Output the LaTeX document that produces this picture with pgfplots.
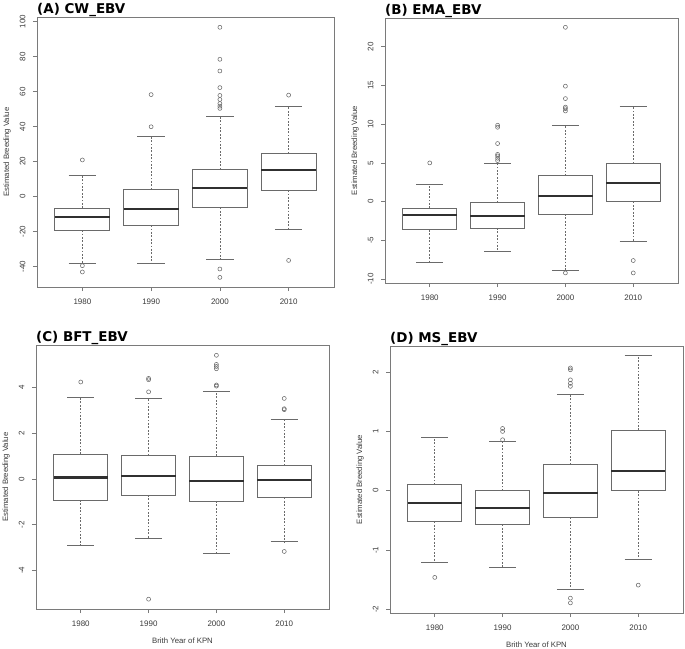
\documentclass[border=0pt]{standalone}
\usepackage{fontspec}
\setmainfont{Liberation Sans}
\newfontfamily\titlefont{DejaVu Sans}
\usepackage{pgfplots}
\pgfplotsset{compat=1.18}
\usepgfplotslibrary{statistics}
\definecolor{framec}{HTML}{7A7A7A}
\definecolor{boxc}{HTML}{6A6A6A}
\definecolor{medc}{HTML}{303030}
\definecolor{txtc}{HTML}{3A3A3A}

\pgfplotsset{
  rbox/.style={
    scale only axis,
    xmin=0.34, xmax=4.66,
    xtick={1,2,3,4}, xticklabels={1980,1990,2000,2010},
    tick align=outside, xtick pos=left, ytick pos=left,
    major tick length=4bp,
    /pgf/number format/assume math mode=true,
    axis line style={framec, line width=0.8bp},
    tick style={framec, line width=0.7bp},
    ticklabel style={font=\fontsize{8}{9}\selectfont, text=txtc},
    yticklabel style={rotate=90, anchor=south, yshift=4bp},
    xticklabel style={anchor=north, yshift=-4bp},
    ylabel={Estimated Breeding Value},
    every axis y label/.style={at={(axis description cs:0,0.5)}, xshift=-30bp, rotate=90, anchor=center, font=\fontsize{7.8}{9}\selectfont, text=txtc},
    every axis x label/.style={at={(axis description cs:0.5,0)}, anchor=center, yshift=-32bp, font=\fontsize{7.8}{9}\selectfont, text=txtc},
    every axis title/.style={at={(axis description cs:0,1)}, anchor=base west, inner sep=0pt, yshift=3.5bp, font=\titlefont\bfseries\fontsize{13.5}{16}\selectfont, text=black},
    boxplot/draw direction=y,
    boxplot/box extend=0.8,
    boxplot/whisker extend=0.4,
    boxplot/draw/box/.code={%
      \draw[boxc, line width=0.9bp]
        (boxplot box cs:\pgfplotsboxplotvalue{lower quartile},0) rectangle
        (boxplot box cs:\pgfplotsboxplotvalue{upper quartile},1);
    },
    boxplot/draw/median/.code={%
      \draw[medc, line width=2.1bp]
        (boxplot box cs:\pgfplotsboxplotvalue{median},0) --
        (boxplot box cs:\pgfplotsboxplotvalue{median},1);
    },
    boxplot/draw/lower whisker/.code={%
      \draw[boxc, line width=0.6bp, dash pattern=on 1.8bp off 1.6bp]
        (boxplot cs:\pgfplotsboxplotvalue{lower quartile}) --
        (boxplot cs:\pgfplotsboxplotvalue{lower whisker});
      \draw[boxc, line width=0.9bp]
        (boxplot whisker cs:\pgfplotsboxplotvalue{lower whisker},0) --
        (boxplot whisker cs:\pgfplotsboxplotvalue{lower whisker},1);
    },
    boxplot/draw/upper whisker/.code={%
      \draw[boxc, line width=0.6bp, dash pattern=on 1.8bp off 1.6bp]
        (boxplot cs:\pgfplotsboxplotvalue{upper quartile}) --
        (boxplot cs:\pgfplotsboxplotvalue{upper whisker});
      \draw[boxc, line width=0.9bp]
        (boxplot whisker cs:\pgfplotsboxplotvalue{upper whisker},0) --
        (boxplot whisker cs:\pgfplotsboxplotvalue{upper whisker},1);
    },
  },
  bxst/.style={draw=boxc, line width=0.8bp, mark=o, mark size=2bp,
    mark options={draw=boxc, fill=none, line width=0.55bp, solid}},
}
\newcommand{\bx}[7]{\addplot[bxst, boxplot prepared={draw position=#1,
  lower whisker=#2, lower quartile=#3, median=#4, upper quartile=#5,
  upper whisker=#6}] table[row sep=\\, y index=0] {v\\ #7};}

\begin{document}
\begin{tikzpicture}
\useasboundingbox (0,0) rectangle (685bp,-649bp);

% (A)
\begin{axis}[rbox, at={(37bp,-17bp)}, anchor=north west,
  width=297bp, height=270bp,
  ymin=-51.8, ymax=102.7, ytick={-40,-20,0,20,40,60,80,100},
  title={(A) CW\_EBV}]
\bx{1}{-38.1}{-19.3}{-12}{-6.7}{12.3}{20.9\\ -39.6\\ -43.2\\}
\bx{2}{-38.1}{-16.4}{-7.3}{3.9}{34.2}{58.3\\ 39.9\\}
\bx{3}{-36.2}{-6.3}{5.1}{15.4}{45.8}{96.8\\ 78.5\\ 71.8\\ 62.3\\ 57.8\\ 55.5\\ 53.2\\ 51.7\\ 50.4\\ -41.5\\ -46.3\\}
\bx{4}{-18.9}{3.6}{15}{24.7}{51.3}{58\\ -36.6\\}
\end{axis}

% (B)
\begin{axis}[rbox, at={(385bp,-18bp)}, anchor=north west,
  width=293bp, height=265bp,
  ymin=-10.5, ymax=23.7, ytick={-10,-5,0,5,10,15,20},
  title={(B) EMA\_EBV}]
\bx{1}{-7.84}{-3.65}{-1.7}{-0.85}{2.2}{5.0\\}
\bx{2}{-6.4}{-3.4}{-1.9}{-0.1}{4.9}{9.86\\ 9.6\\ 7.5\\ 6.1\\ 5.9\\ 5.6\\ 5.3\\}
\bx{3}{-8.9}{-1.6}{0.75}{3.34}{9.8}{22.5\\ 14.9\\ 13.3\\ 12.2\\ 12.0\\ 11.7\\ -9.2\\}
\bx{4}{-5.1}{0.0}{2.35}{4.94}{12.3}{-7.6\\ -9.2\\}
\end{axis}

% (C)
\begin{axis}[rbox, at={(36bp,-345bp)}, anchor=north west,
  width=293bp, height=264bp,
  ymin=-5.69, ymax=5.87, ytick={-4,-2,0,2,4},
  xlabel={Brith Year of KPN},
  title={(C) BFT\_EBV}]
\bx{1}{-2.89}{-0.92}{0.07}{1.09}{3.59}{4.25\\}
\bx{2}{-2.58}{-0.70}{0.12}{1.04}{3.55}{4.41\\ 4.35\\ 3.82\\ -5.26\\}
\bx{3}{-3.26}{-0.96}{-0.10}{1.01}{3.82}{5.42\\ 5.02\\ 4.93\\ 4.83\\ 4.12\\ 4.07\\}
\bx{4}{-2.74}{-0.80}{-0.06}{0.60}{2.63}{3.53\\ 3.08\\ 3.04\\ -3.17\\}
\end{axis}

% (D)
\begin{axis}[rbox, at={(390bp,-346bp)}, anchor=north west,
  width=293bp, height=267bp,
  ymin=-2.06, ymax=2.44, ytick={-2,-1,0,1,2},
  xlabel={Brith Year of KPN},
  title={(D) MS\_EBV}]
\bx{1}{-1.21}{-0.515}{-0.205}{0.10}{0.90}{-1.46\\}
\bx{2}{-1.29}{-0.57}{-0.29}{0.0}{0.83}{1.05\\ 1.0\\ 0.86\\}
\bx{3}{-1.66}{-0.45}{-0.04}{0.44}{1.62}{2.07\\ 2.04\\ 1.87\\ 1.81\\ 1.76\\ -1.81\\ -1.89\\}
\bx{4}{-1.16}{0.0}{0.34}{1.02}{2.28}{-1.59\\}
\end{axis}
\end{tikzpicture}
\end{document}
